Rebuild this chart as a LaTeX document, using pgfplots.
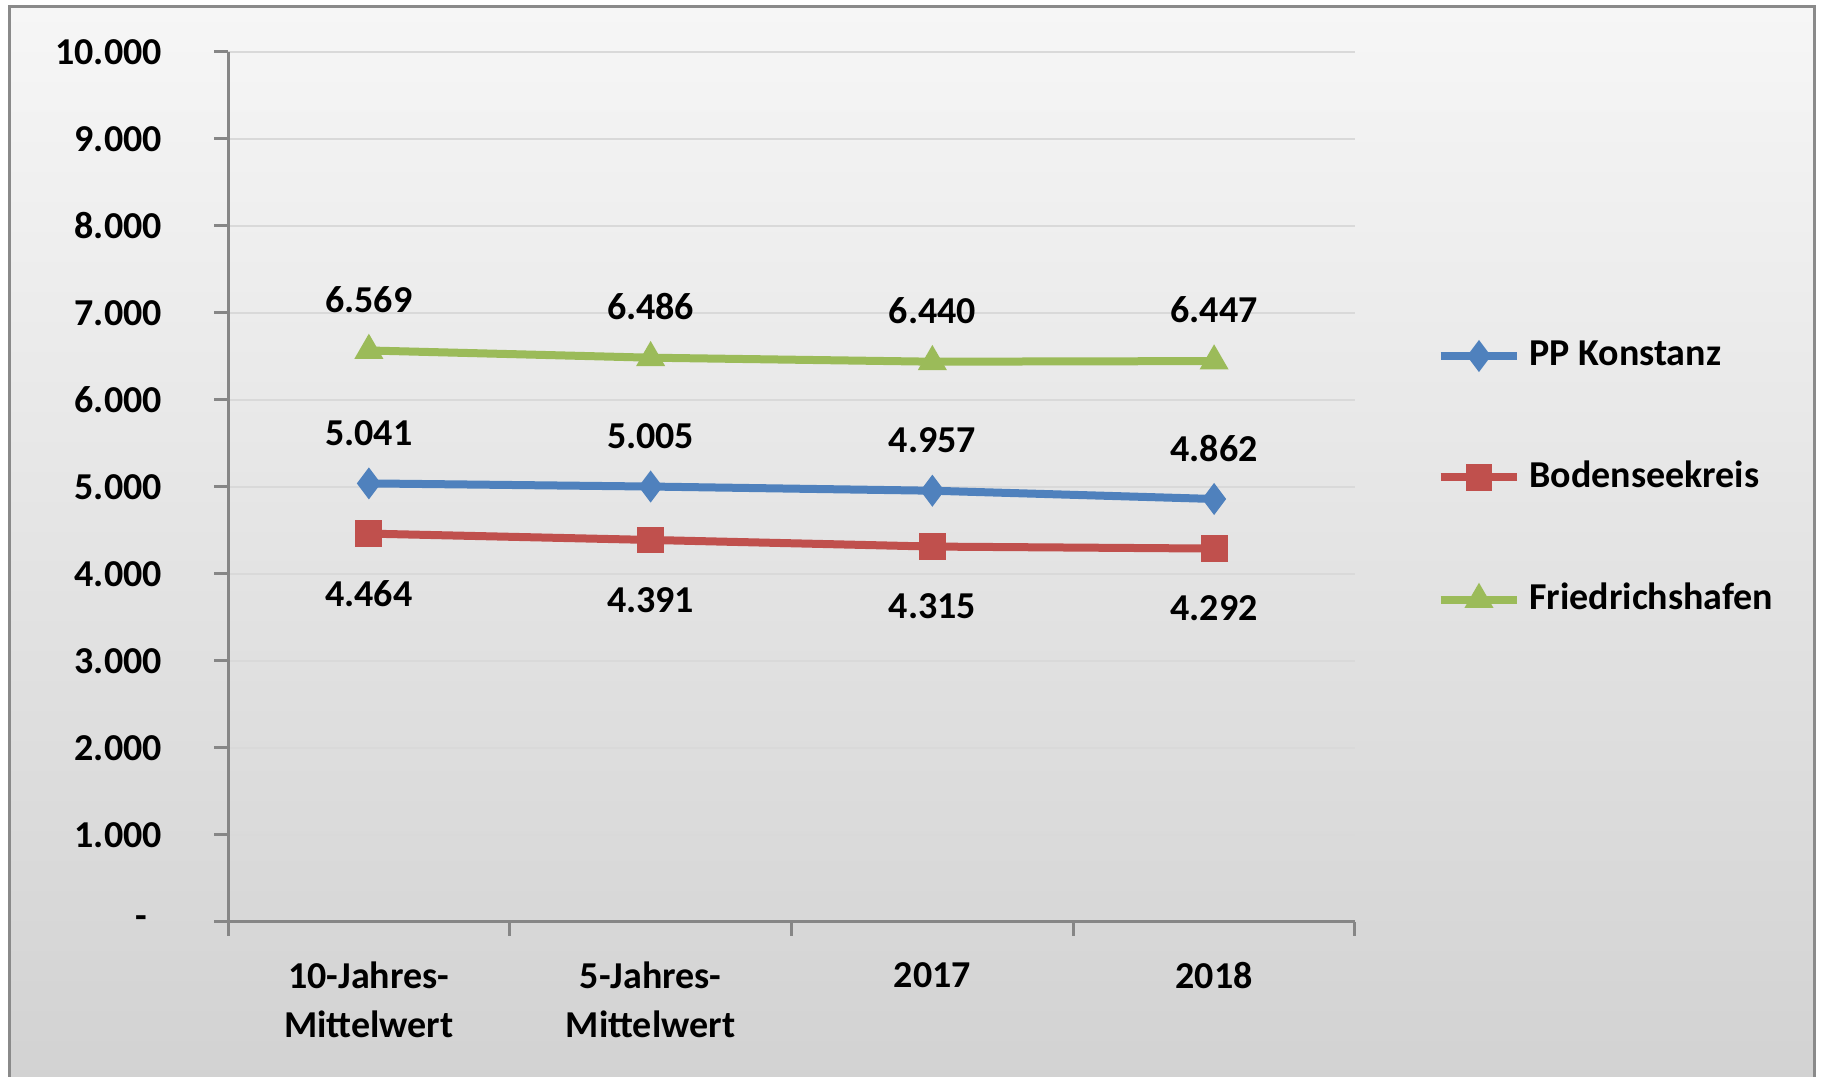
\documentclass[border=0pt]{standalone}
\usepackage{fontspec}
\setmainfont{Carlito}
\usepackage{pgfplots}
\pgfplotsset{compat=1.18}
\definecolor{pkblue}{HTML}{4F81BD}
\definecolor{bkred}{HTML}{C0504D}
\definecolor{fngreen}{HTML}{9BBB59}
\definecolor{axgray}{HTML}{868686}
\definecolor{gridgray}{HTML}{D9D9D9}
\definecolor{framegray}{HTML}{8A8A8A}
\definecolor{bgtop}{HTML}{F6F6F6}
\definecolor{bgbottom}{HTML}{D2D2D2}

\begin{document}
\begin{tikzpicture}[font=\fontsize{9.5}{12.2}\selectfont\bfseries]
\useasboundingbox (0,0) rectangle (455.75pt,269.25pt);
\fill[white] (0,0) rectangle (455.75pt,269.25pt);
\shade[top color=bgtop, bottom color=bgbottom] (2.25pt,-2pt) rectangle (453.5pt,267.5pt);
\draw[framegray, line width=0.75pt] (2.25pt,-2pt) -- (2.25pt,267.5pt) -- (453.5pt,267.5pt) -- (453.5pt,-2pt);
\begin{axis}[
    at={(57pt,38.75pt)}, anchor=south west,
    scale only axis, width=281.75pt, height=217.5pt,
    xmin=-0.5, xmax=3.5, ymin=0, ymax=10000,
    axis x line=bottom, axis y line=left,
    axis line style={-, draw=axgray, line width=0.75pt},
    tick style={draw=axgray, line width=0.75pt},
    tick align=outside, major tick length=3.5pt,
    xtick={-0.5,0.5,1.5,2.5,3.5}, xticklabels={},
    extra x ticks={0,1,2,3},
    extra x tick labels={10-Jahres-\\Mittelwert, 5-Jahres-\\Mittelwert, 2017, 2018},
    extra x tick style={major tick length=0pt, xticklabel style={align=center, anchor=north, yshift=-6.5pt}},
    ytick={0,1000,...,10000}, scaled y ticks=false,
    yticklabels={-\kern3.8pt, 1.000, 2.000, 3.000, 4.000, 5.000, 6.000, 7.000, 8.000, 9.000, 10.000},
    yticklabel style={anchor=east, xshift=-9.5pt},
    ymajorgrids, grid style={gridgray, line width=0.5pt},
    /pgf/number format/.cd, fixed, precision=0, 1000 sep={.}, assume math mode=true,
    /pgfplots/.cd,
    nodes near coords,
    every node near coord/.append style={anchor=center, text=black},
    legend cell align=left,
    legend style={draw=none, fill=none, at={(1.0717,0.51)}, anchor=west,
        inner xsep=0pt, row sep=18.4pt},
    legend image code/.code={\draw[mark repeat=2, mark phase=2, #1]
        plot coordinates {(0pt,0pt) (9.6pt,0pt) (19.2pt,0pt)};},
]
\addplot[pkblue, line width=2pt, mark=diamond*, mark size=3.6pt,
    mark options={solid, fill=pkblue, draw=pkblue, line width=0.5pt},
    every node near coord/.append style={yshift=12.6pt}]
    coordinates {(0,5041) (1,5005) (2,4957) (3,4862)};
\addlegendentry{PP Konstanz}
\addplot[bkred, line width=2pt, mark=square*, mark size=3.1pt,
    mark options={solid, fill=bkred, draw=bkred, line width=0.5pt},
    every node near coord/.append style={yshift=-15pt}]
    coordinates {(0,4464) (1,4391) (2,4315) (3,4292)};
\addlegendentry{Bodenseekreis}
\addplot[fngreen, line width=2pt, mark=triangle*, mark size=3.7pt,
    mark options={solid, fill=fngreen, draw=fngreen, line width=0.5pt},
    every node near coord/.append style={yshift=12.8pt}]
    coordinates {(0,6569) (1,6486) (2,6440) (3,6447)};
\addlegendentry{Friedrichshafen}
\end{axis}
\end{tikzpicture}
\end{document}
